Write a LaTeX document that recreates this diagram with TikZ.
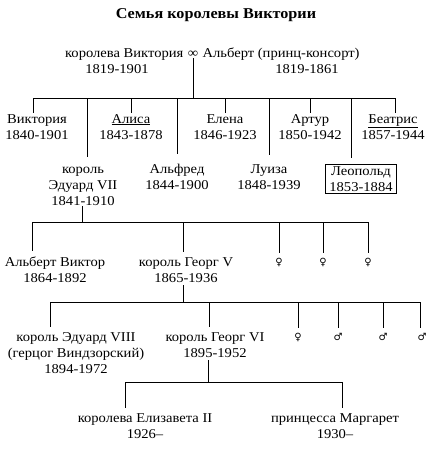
\documentclass[tikz,border=0pt]{standalone}
\usepackage{fontspec}
\setmainfont{Liberation Serif}[FakeStretch=1.08]
\newfontfamily\symfont{DejaVu Sans}
\usetikzlibrary{positioning}

\begin{document}
\begin{tikzpicture}[x=1pt, y=-1pt,
person/.style={align=center, anchor=base, inner sep=1pt, font=\fontsize{13.5}{16}\selectfont},
sex/.style={inner sep=1pt, font=\symfont\fontsize{10}{12}\selectfont},
link/.style={line width=0.6pt}
]
\useasboundingbox (0,0) rectangle (440,450);

\node[anchor=base, font=\bfseries\fontsize{15}{17}\selectfont] (title) at (216,18) {Семья королевы Виктории};

% parents
\node[person] (marr) at (193,57) {∞};
\node[person, anchor=base east] (victoria) at ([xshift=-2pt]marr.base west) {королева Виктория};
\node[person, anchor=base west] (albert) at ([xshift=2pt]marr.base east) {Альберт (принц-консорт)};
\node[person] (victoriay) at (117,73) {1819-1901};
\node[person] (alberty) at (307,73) {1819-1861};

% children (base = last line)
\node[person] (vika) at (37,139) {Виктория\\1840-1901};
\node[person] (alisa) at (131,139) {\underline{Алиса}\\1843-1878};
\node[person] (elena) at (225,139) {Елена\\1846-1923};
\node[person] (artur) at (310,139) {Артур\\1850-1942};
\node[person] (beatris) at (393,139) {\underline{Беатрис}\\1857-1944};
\node[person] (edward7) at (83,205) {король\\Эдуард VII\\1841-1910};
\node[person] (alfred) at (177,189) {Альфред\\1844-1900};
\node[person] (luiza) at (269,189) {Луиза\\1848-1939};
\node[person, draw, inner xsep=4pt, inner ysep=2pt] (leopold) at (361,191) {Леопольд\\1853-1884};

\coordinate (bar1) at (193,98);
\coordinate (j11) at (33,98);
\coordinate (j12) at (87,98);
\coordinate (j15) at (351,98);
\coordinate (j19) at (395,98);

\draw[link] (marr.south) -- (bar1);
\draw[link] (j11) -- (j19);
\draw[link] (j11) -- (j11 |- vika.north);
\draw[link] (j12) -- ([yshift=8pt]j12 |- edward7.north);
\draw[link] (alisa.north |- bar1) -- (alisa.north);
\draw[link] (alfred.north |- bar1) -- ([yshift=8pt]alfred.north);
\draw[link] (elena.north |- bar1) -- (elena.north);
\draw[link] (luiza.north |- bar1) -- ([yshift=8pt]luiza.north);
\draw[link] (artur.north |- bar1) -- (artur.north);
\draw[link] (j15) -- ([yshift=6pt]j15 |- leopold.north);
\draw[link] (j19) -- (j19 |- beatris.north);

% grandchildren
\node[person] (albertv) at (55,282) {Альберт Виктор\\1864-1892};
\node[person] (george5) at (186,282) {король Георг V\\1865-1936};
\node[sex] (f21) at (279,262) {♀};
\node[sex] (f22) at (323,262) {♀};
\node[sex] (f23) at (368,262) {♀};

\coordinate (bar2) at (82,222);
\coordinate (j21) at (32,222);
\coordinate (j22) at (183,222);
\coordinate (j25) at (368,222);

\draw[link] (edward7.south -| bar2) -- (bar2);
\draw[link] (j21) -- (j25);
\draw[link] (j21) -- ([yshift=4pt]j21 |- albertv.north);
\draw[link] (j22) -- ([yshift=4pt]j22 |- george5.north);
\draw[link] (f21 |- bar2) -- ([yshift=4pt]f21.north);
\draw[link] (f22 |- bar2) -- ([yshift=4pt]f22.north);
\draw[link] (j25) -- ([yshift=4pt]f23.north);

% great-grandchildren
\node[person] (edward8) at (76,373) {король Эдуард VIII\\(герцог Виндзорский)\\1894-1972};
\node[person] (george6) at (215,357) {король Георг VI\\1895-1952};
\node[sex] (f31) at (298,337) {♀};
\node[sex] (m32) at (338,337) {♂};
\node[sex] (m33) at (383,337) {♂};
\node[sex] (m34) at (422,337) {♂};

\coordinate (bar3) at (183,302);
\coordinate (j31) at (50,302);
\coordinate (j32) at (209,302);
\coordinate (j36) at (420,302);

\draw[link] ([yshift=-2pt]george5.south -| bar3) -- (bar3);
\draw[link] (j31) -- (j36);
\draw[link] (j31) -- ([yshift=4pt]j31 |- edward8.north);
\draw[link] (j32) -- ([yshift=4pt]j32 |- george6.north);
\draw[link] (f31 |- bar3) -- ([yshift=4pt]f31.north);
\draw[link] (m32 |- bar3) -- ([yshift=4pt]m32.north);
\draw[link] (m33 |- bar3) -- ([yshift=4pt]m33.north);
\draw[link] (j36) -- ([yshift=4pt]j36 |- m34.north);

% Georg VI's daughters
\node[person] (elizabeth) at (145,438) {королева Елизавета II\\1926–};
\node[person] (margaret) at (335,438) {принцесса Маргарет\\1930–};

\coordinate (bar4) at (208,382);
\coordinate (j41) at (125,382);
\coordinate (j42) at (342,382);

\draw[link] ([yshift=-2pt]george6.south -| bar4) -- (bar4);
\draw[link] (j41) -- (j42);
\draw[link] (j41) -- ([yshift=4pt]j41 |- elizabeth.north);
\draw[link] (j42) -- ([yshift=4pt]j42 |- margaret.north);

\end{tikzpicture}
\end{document}
